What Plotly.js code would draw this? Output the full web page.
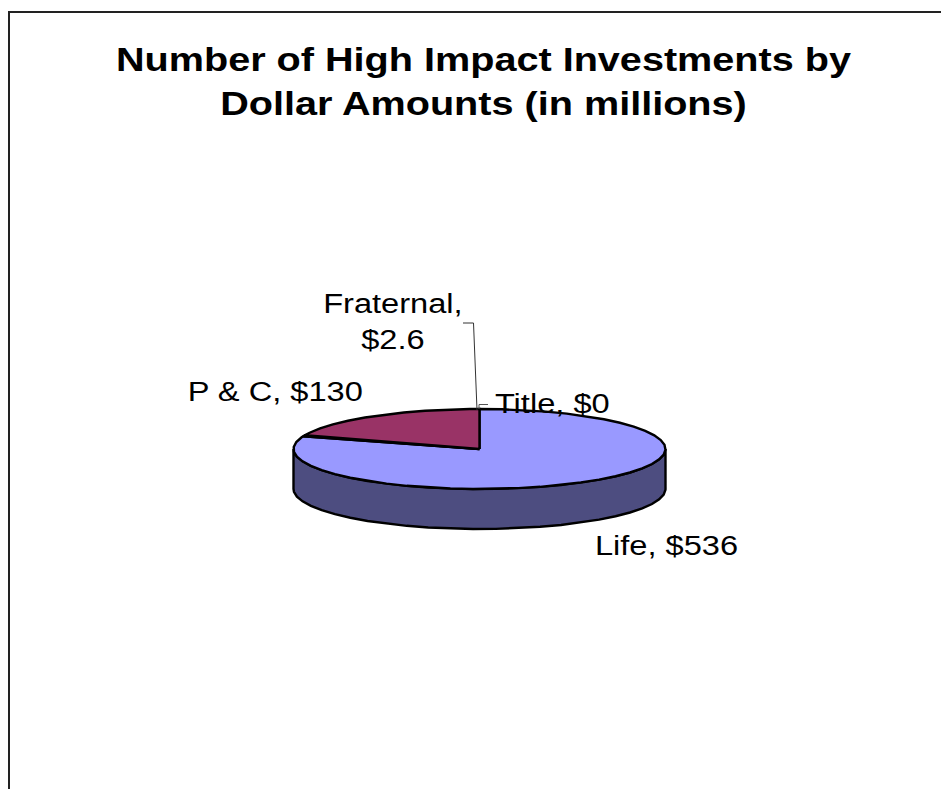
<!DOCTYPE html>
<html>
<head>
<meta charset="utf-8">
<script src="https://cdn.plot.ly/plotly-3.0.1.min.js"></script>
<style>
html,body{margin:0;padding:0;background:#fff;overflow:hidden}
/* The chart's lettering is set wide, about 116% of the face's normal width */
#chart .gtitle, #chart .annotation-text{transform-box:fill-box;transform-origin:center;transform:scaleX(1.165)}
</style>
</head>
<body>
<div id="chart" style="width:941px;height:789px"></div>
<script>
// Investment totals by insurer type, in millions of dollars
const categories = ["Life", "Title", "Fraternal", "P & C"];
const amounts = [536, 0, 2.6, 130];
const topColors = ["#9999ff", "#ffffcc", "#000000", "#993366"];
const wallColors = ["#4d4d80", "#80806a", "#000000", "#4d1a33"];
const chartTitle = "Number of High Impact Investments by<br>Dollar Amounts (in millions)";

// Tilted-disc geometry, in page pixels
const disc = {cx: 479.5, cy: 449, rx: 186, ry: 40, depth: 40, facet: 7};
const total = amounts.reduce((a, b) => a + b, 0);

const px = deg => disc.cx + disc.rx * Math.sin(deg * Math.PI / 180);
const py = deg => disc.cy - disc.ry * Math.cos(deg * Math.PI / 180);

function arcAngles(from, to) {
  const out = [from];
  for (let a = Math.ceil(from / disc.facet + 1e-6) * disc.facet; a < to; a += disc.facet) out.push(a);
  out.push(to);
  return out;
}

const traces = [];
const base = {type: "scatter", mode: "lines", hoverinfo: "skip", showlegend: false};
let start = 0;
const wedges = amounts.map(v => {
  const w = {from: start, to: start + v / total * 360};
  start = w.to;
  return w;
});

// Outer wall, visible only on the front half of the disc
wedges.forEach((w, i) => {
  const from = Math.max(w.from, 90), to = Math.min(w.to, 270);
  if (to <= from) return;
  const arc = arcAngles(from, to);
  const x = arc.map(px).concat(arc.slice().reverse().map(px));
  const y = arc.map(py).concat(arc.slice().reverse().map(a => py(a) + disc.depth));
  traces.push({...base, x: x.concat(x[0]), y: y.concat(y[0]), fill: "toself",
    fillcolor: wallColors[i], line: {color: "#000", width: 2.4}});
});

// Top face, one wedge per category
wedges.forEach((w, i) => {
  if (amounts[i] === 0) return;
  const arc = arcAngles(w.from, w.to);
  const x = [disc.cx].concat(arc.map(px), [disc.cx]);
  const y = [disc.cy].concat(arc.map(py), [disc.cy]);
  traces.push({...base, x, y, fill: "toself", fillcolor: topColors[i],
    line: {color: "#000", width: 2.4}});
});

// Leader lines for the two narrow slices
traces.push({...base, x: [463, 473.5, 477], y: [323, 323, 410], line: {color: "#333", width: 1}});
traces.push({...base, x: [488, 479, 479], y: [404.5, 404.5, 409], line: {color: "#555", width: 1}});

const labelFont = {family: "Liberation Sans, Arial, sans-serif", size: 28, color: "#000"};
const label = (text, x, y) => ({text, x, y, xref: "x", yref: "y", showarrow: false,
  xanchor: "center", yanchor: "middle", align: "center", font: labelFont});

const annotations = [
  label(`${categories[3]}, $${amounts[3]}`, 275, 391),
  label(`${categories[2]},<br>$${amounts[2]}`, 392.5, 321),
  label(`${categories[1]}, $${amounts[1]}`, 552, 403),
  label(`${categories[0]}, $${amounts[0]}`, 666.5, 545)
];

const layout = {
  width: 941, height: 789,
  margin: {l: 0, r: 0, t: 0, b: 0},
  paper_bgcolor: "#fff", plot_bgcolor: "#fff",
  title: {
    text: chartTitle, x: 483.5 / 941, xanchor: "center", y: 0.9105, yanchor: "middle",
    font: {family: "Liberation Sans, Arial, sans-serif", size: 34, color: "#000", weight: "bold"}
  },
  xaxis: {range: [0, 941], visible: false, fixedrange: true},
  yaxis: {range: [789, 0], visible: false, fixedrange: true},
  annotations,
  shapes: [{type: "rect", xref: "x", yref: "y", x0: 9, y0: 12, x1: 960, y1: 810,
    line: {color: "#222", width: 2}, fillcolor: "rgba(0,0,0,0)", layer: "below"}]
};

Plotly.newPlot("chart", traces, layout, {displayModeBar: false, staticPlot: true});
</script>
</body>
</html>
